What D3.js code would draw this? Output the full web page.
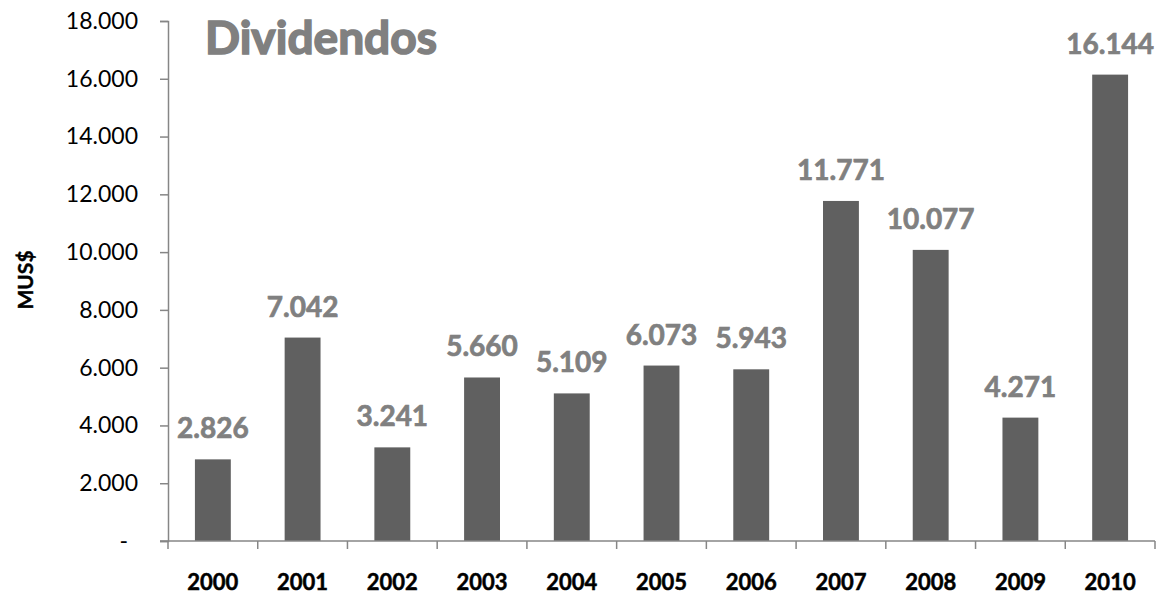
<!DOCTYPE html>
<html><head><meta charset="utf-8">
<script src="https://cdn.jsdelivr.net/npm/d3@7"></script>
<style>body{margin:0;background:#fff}svg{display:block}text{font-family:Lato,"Open Sans",sans-serif}</style>
</head><body><svg id="c" width="1161" height="594"></svg>
<script>
const categories = ["2000","2001","2002","2003","2004","2005","2006","2007","2008","2009","2010"];
const values = [2826,7042,3241,5660,5109,6073,5943,11771,10077,4271,16144];
const yTicks = [0,2000,4000,6000,8000,10000,12000,14000,16000,18000];
const title = "Dividendos";
const yTitle = "MUS$";

(function(){
const svg = d3.select("#c");
const mLeft = 168, mRight = 1155, mTop = 21, mBottom = 541;
const fmt = v => v === 0 ? "-" : d3.format(",")(v).replace(/,/g, ".");

const x = d3.scaleBand().domain(categories).range([mLeft, mRight]).paddingInner(0.6).paddingOuter(0.3);
const y = d3.scaleLinear().domain([0, 18000]).range([mBottom, mTop]);
const axisColor = "#868686";

// y axis
const ya = svg.append("g").attr("transform", `translate(${mLeft},0)`)
  .call(d3.axisLeft(y).tickValues(yTicks).tickSize(8).tickPadding(22).tickFormat(fmt));
ya.select(".domain").attr("stroke", axisColor).attr("stroke-width", 1.5);
ya.selectAll(".tick line").attr("stroke", axisColor).attr("stroke-width", 1.5);
ya.selectAll(".tick text").attr("font-size", 23).attr("fill", "#000").attr("font-family", "Lato,sans-serif")
  .attr("dx", d => d === 0 ? -10 : 0);

// bars
svg.append("g").selectAll("rect").data(values).join("rect")
  .attr("x", (d, i) => x(categories[i]))
  .attr("width", x.bandwidth())
  .attr("y", d => y(d))
  .attr("height", d => y(0) - y(d))
  .attr("fill", "#606060");

// x axis
const xa = svg.append("g");
xa.append("line").attr("x1", mLeft - 8).attr("x2", mRight).attr("y1", mBottom).attr("y2", mBottom)
  .attr("stroke", axisColor).attr("stroke-width", 1.5);
const bScale = d3.scaleLinear().domain([0, categories.length]).range([mLeft, mRight]);
xa.selectAll("line.t").data(d3.range(categories.length + 1)).join("line").attr("class", "t")
  .attr("x1", d => bScale(d)).attr("x2", d => bScale(d)).attr("y1", mBottom).attr("y2", mBottom + 8)
  .attr("stroke", axisColor).attr("stroke-width", 1.5);
xa.selectAll("text").data(categories).join("text")
  .attr("x", d => x(d) + x.bandwidth() / 2).attr("y", 590)
  .attr("text-anchor", "middle").attr("font-size", 22).attr("font-weight", "bold").attr("fill", "#000")
  .attr("stroke", "#000").attr("stroke-width", 0.5)
  .text(d => d);

// value labels
svg.append("g").selectAll("text").data(values).join("text")
  .attr("x", (d, i) => x(categories[i]) + x.bandwidth() / 2)
  .attr("y", d => y(d) - 21)
  .attr("text-anchor", "middle").attr("font-size", 28).attr("font-weight", "bold").attr("fill", "#808080")
  .attr("stroke", "#808080").attr("stroke-width", 0.7)
  .text(d => fmt(d));

// title
svg.append("text").attr("x", 205).attr("y", 54).attr("font-size", 46).attr("font-weight", "bold")
  .attr("fill", "#808080").attr("stroke", "#808080").attr("stroke-width", 1.6)
  .attr("textLength", 232).attr("lengthAdjust", "spacingAndGlyphs")
  .text(title);

// y title
svg.append("text").attr("transform", "translate(33,280) rotate(-90)").attr("text-anchor", "middle")
  .attr("font-size", 21).attr("font-weight", "bold").attr("fill", "#000").attr("stroke", "#000").attr("stroke-width", 0.4)
  .text(yTitle);
})();
</script></body></html>
